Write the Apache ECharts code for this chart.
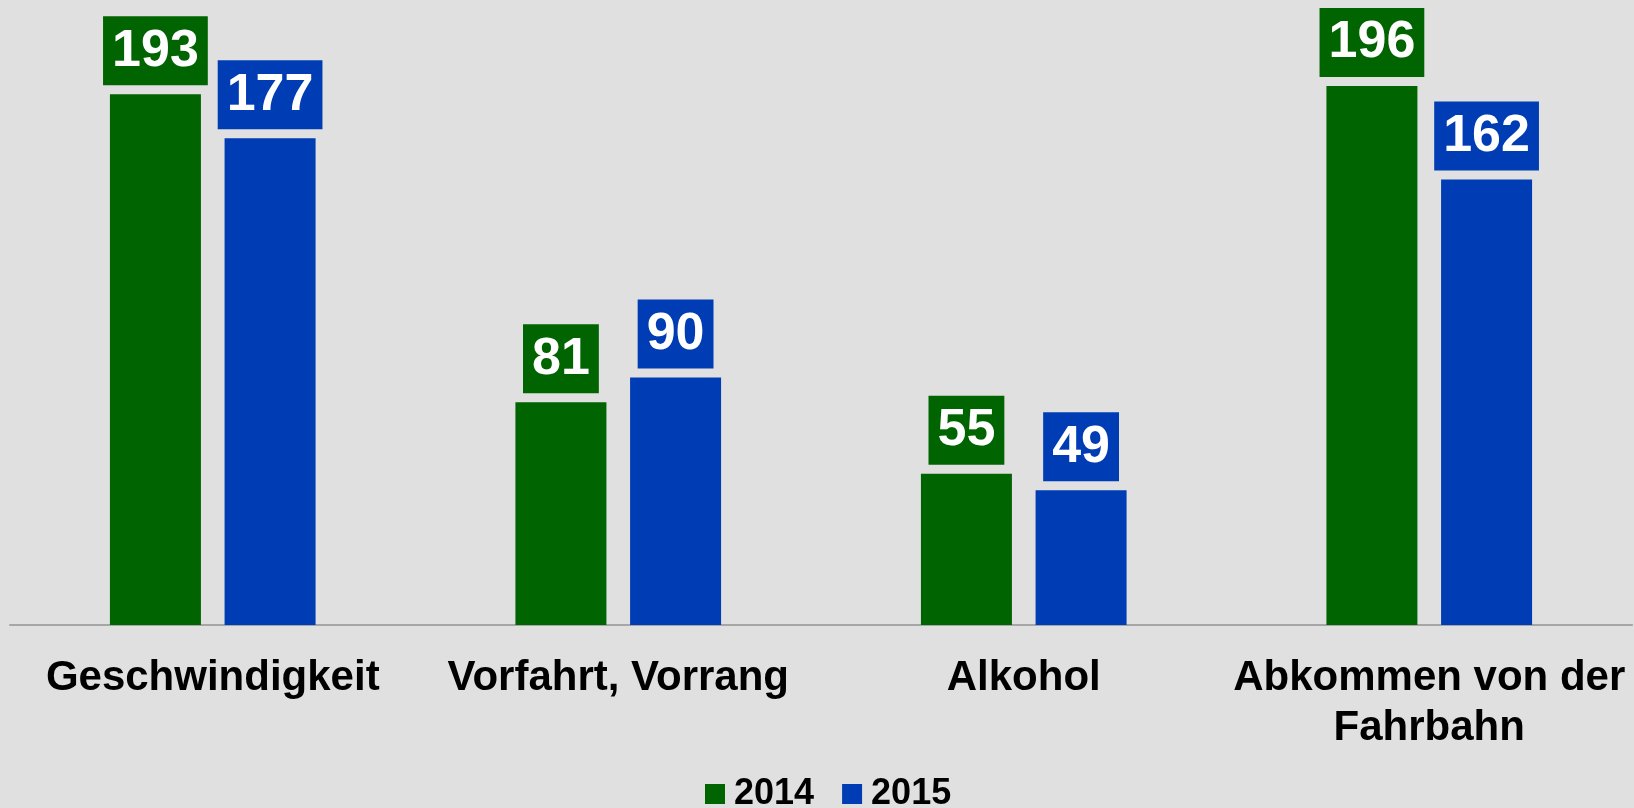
<!DOCTYPE html>
<html>
<head>
<meta charset="utf-8">
<style>
  html, body { margin: 0; padding: 0; background: #e0e0e0; }
  #chart { width: 1634px; height: 808px; }
</style>
<script src="https://cdn.jsdelivr.net/npm/echarts@6/dist/echarts.min.js"></script>
</head>
<body>
<div id="chart"></div>
<script>
// categories and values
var categories = ['Geschwindigkeit', 'Vorfahrt, Vorrang', 'Alkohol', 'Abkommen von der\nFahrbahn'];
var values2014 = [193, 81, 55, 196];
var values2015 = [177, 90, 49, 162];
var seriesNames = ['2014', '2015'];

var green = '#006400';
var blue = '#003cb4';
var font = "'Liberation Sans', Arial, sans-serif";

function barLabel(color) {
  return {
    show: true,
    position: 'top',
    distance: 9,
    color: '#fff',
    fontFamily: font,
    fontWeight: 'bold',
    fontSize: 52,
    backgroundColor: color,
    padding: [9, 9, 8, 9]
  };
}

var chart = echarts.init(document.getElementById('chart'));
chart.setOption({
  backgroundColor: '#e0e0e0',
  animation: false,
  grid: {
    left: 10,
    right: 2,
    top: 75,
    bottom: 183
  },
  legend: {
    left: 700,
    top: 771,
    itemWidth: 20,
    itemHeight: 20,
    itemGap: 28,
    icon: 'rect',
    data: seriesNames,
    textStyle: {
      fontFamily: font,
      fontWeight: 'bold',
      fontSize: 36,
      color: '#000',
      padding: [0, 0, 0, 4]
    }
  },
  xAxis: {
    type: 'category',
    data: categories,
    axisTick: { show: false },
    axisLine: { lineStyle: { color: '#a6a6a6', width: 2 } },
    axisLabel: {
      interval: 0,
      margin: 28,
      color: '#000',
      fontFamily: font,
      fontWeight: 'bold',
      fontSize: 42,
      lineHeight: 50
    }
  },
  yAxis: {
    type: 'value',
    min: 0,
    max: 200,
    show: false,
    splitLine: { show: false }
  },
  series: [
    {
      name: seriesNames[0],
      type: 'bar',
      data: values2014,
      barWidth: 91,
      barGap: '26%',
      itemStyle: { color: green },
      label: barLabel(green)
    },
    {
      name: seriesNames[1],
      type: 'bar',
      data: values2015,
      barWidth: 91,
      barGap: '26%',
      itemStyle: { color: blue },
      label: barLabel(blue)
    }
  ]
});
</script>
</body>
</html>
